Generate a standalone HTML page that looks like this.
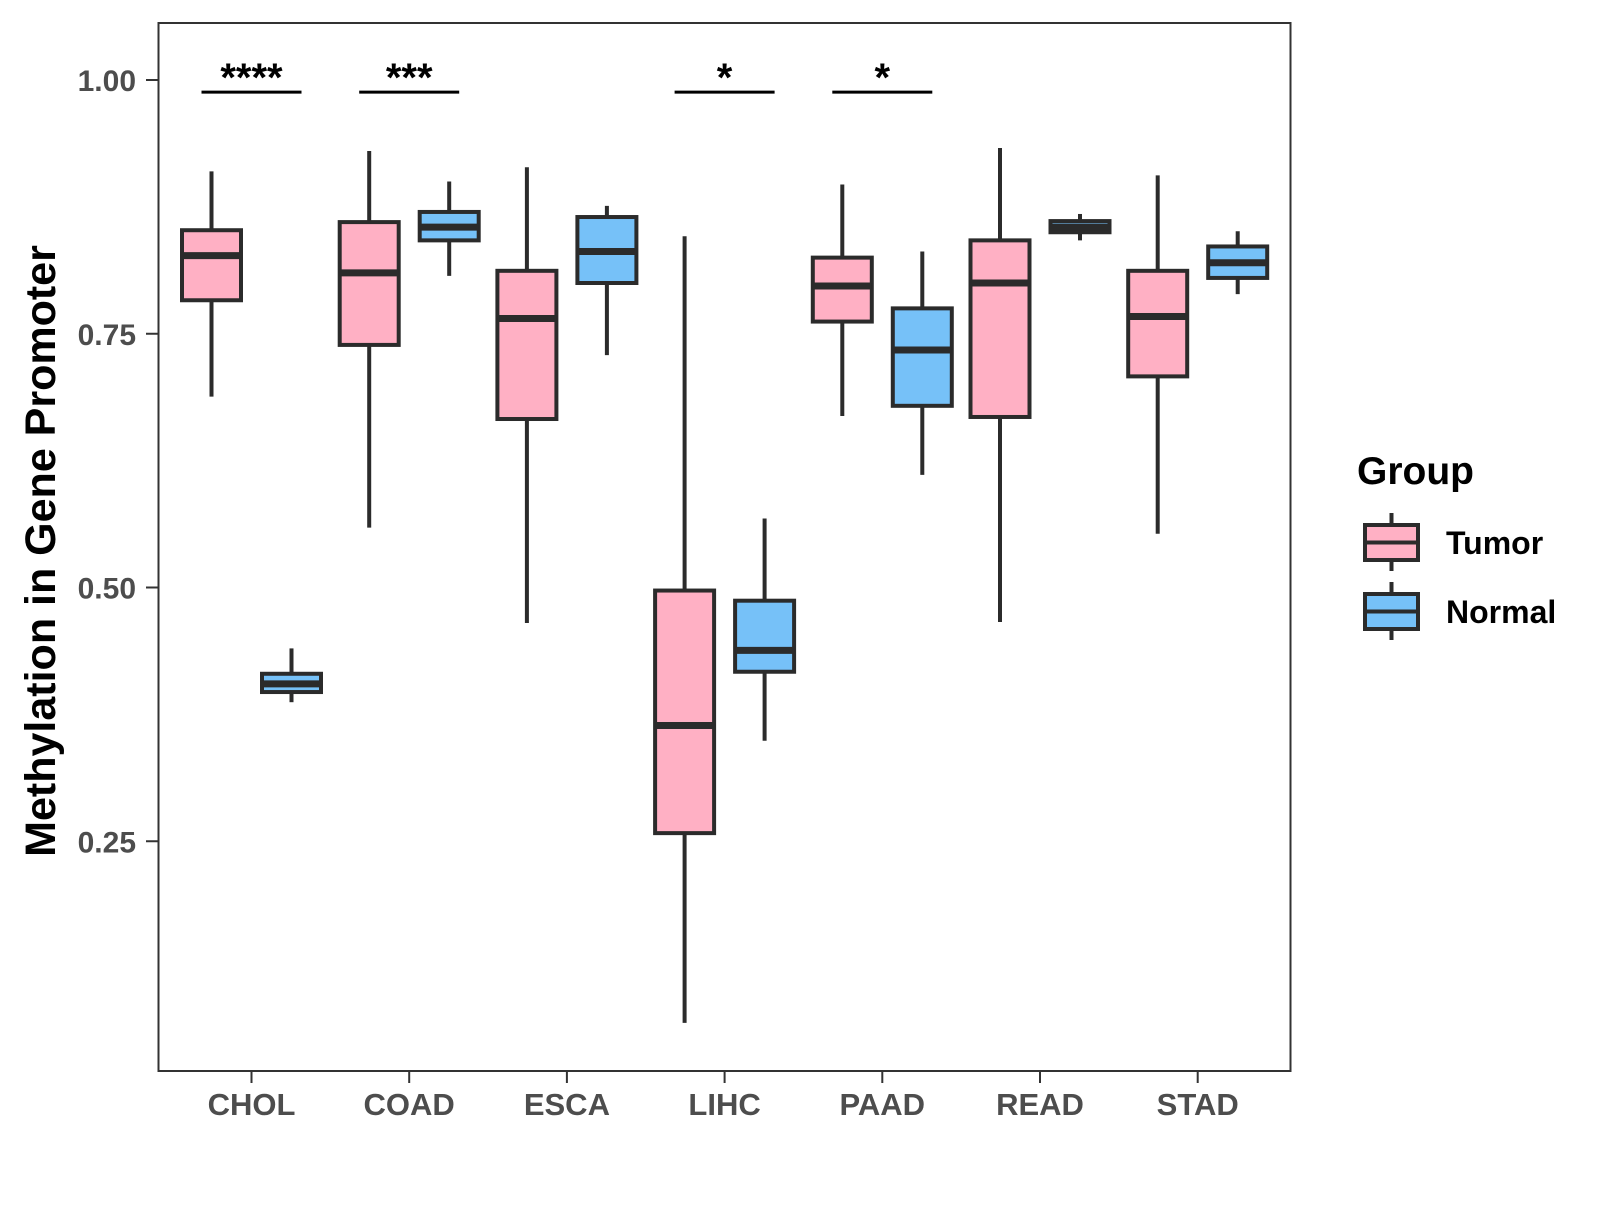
<!DOCTYPE html>
<html><head><meta charset="utf-8"><style>
html,body{margin:0;padding:0;background:#fff;}
svg text{font-family:"Liberation Sans",Arial,sans-serif;font-weight:bold;}
</style></head><body>
<svg id="chart" width="1600" height="1200" xmlns="http://www.w3.org/2000/svg">
<rect x="0" y="0" width="1600" height="1200" fill="#fff"/>
<g id="marks"></g>
<rect x="158.5" y="23" width="1132" height="1048" fill="none" stroke="#333" stroke-width="2"/>
<g id="axes"></g>
<text transform="translate(55,551) rotate(-90)" text-anchor="middle" font-size="43" fill="#000">Methylation in Gene Promoter</text>
<text x="1357" y="484" font-size="39" fill="#000">Group</text>
<g>
<line x1="1391.5" y1="513" x2="1391.5" y2="571" stroke="#2b2b2b" stroke-width="4"/>
<rect x="1365" y="525" width="53" height="35" fill="#FFB0C4" stroke="#2b2b2b" stroke-width="4"/>
<line x1="1365" y1="542.5" x2="1418" y2="542.5" stroke="#2b2b2b" stroke-width="4"/>
<text x="1446" y="554" font-size="32" fill="#000">Tumor</text>
</g>
<g>
<line x1="1391.5" y1="582" x2="1391.5" y2="640" stroke="#2b2b2b" stroke-width="4"/>
<rect x="1365" y="594" width="53" height="35" fill="#76C1F8" stroke="#2b2b2b" stroke-width="4"/>
<line x1="1365" y1="611.5" x2="1418" y2="611.5" stroke="#2b2b2b" stroke-width="4"/>
<text x="1446" y="623" font-size="32" fill="#000">Normal</text>
</g>
</svg>
<script>
const categories = ["CHOL","COAD","ESCA","LIHC","PAAD","READ","STAD"];
// [lower whisker, Q1, median, Q3, upper whisker]
const tumorStats = [
  [0.688,0.783,0.827,0.852,0.910],
  [0.559,0.739,0.810,0.860,0.930],
  [0.465,0.666,0.765,0.812,0.914],
  [0.071,0.258,0.364,0.497,0.846],
  [0.669,0.762,0.797,0.825,0.897],
  [0.466,0.668,0.800,0.842,0.933],
  [0.553,0.708,0.767,0.812,0.906]
];
const normalStats = [
  [0.387,0.397,0.405,0.415,0.440],
  [0.807,0.842,0.855,0.870,0.900],
  [0.729,0.800,0.831,0.865,0.876],
  [0.349,0.417,0.438,0.487,0.568],
  [0.611,0.679,0.734,0.775,0.831],
  [0.842,0.850,0.855,0.861,0.868],
  [0.789,0.805,0.820,0.836,0.851]
];
const yTicks = [0.25,0.50,0.75,1.00];
const yTickLabels = ["0.25","0.50","0.75","1.00"];
const sigLabels = ["****","***","","*","*","",""];
const sigLevel = 0.988;

const NS="http://www.w3.org/2000/svg";
function y(v){return 80+(1-v)*1015;}
function xc(i){return 251.5+i*157.7;}
const OFF=40, BW=59;
const marks=document.getElementById('marks');
const axes=document.getElementById('axes');
function el(tag,attrs,parent){const e=document.createElementNS(NS,tag);for(const k in attrs)e.setAttribute(k,attrs[k]);parent.appendChild(e);return e;}

function drawBox(s,cx,fill,name){
  const g=el('g',{},marks);
  
  
  el('line',{x1:cx,x2:cx,y1:y(s[4]),y2:y(s[0]),stroke:'#2b2b2b','stroke-width':4},g);
  el('rect',{x:cx-BW/2,y:y(s[3]),width:BW,height:y(s[1])-y(s[3]),fill:fill,stroke:'#2b2b2b','stroke-width':4},g);
  el('line',{x1:cx-BW/2,x2:cx+BW/2,y1:y(s[2]),y2:y(s[2]),stroke:'#2b2b2b','stroke-width':7},g);
}
categories.forEach((c,i)=>{
  drawBox(tumorStats[i],xc(i)-OFF,'#FFB0C4','box-tumor-'+c.toLowerCase());
  drawBox(normalStats[i],xc(i)+OFF,'#76C1F8','box-normal-'+c.toLowerCase());
  if(sigLabels[i]){
    const g=el('g',{},marks);
    
    
    el('line',{x1:xc(i)-OFF-10,x2:xc(i)+OFF+10,y1:y(sigLevel),y2:y(sigLevel),stroke:'#000','stroke-width':3},g);
    const t=el('text',{x:xc(i),y:y(sigLevel)-1,'text-anchor':'middle','font-size':40,fill:'#000'},g);
    t.textContent=sigLabels[i];
  }
  const tk=el('line',{x1:xc(i),x2:xc(i),y1:1071,y2:1083,stroke:'#333','stroke-width':2},axes);
  
  
  const lb=el('text',{x:xc(i),y:1115,'text-anchor':'middle','font-size':31,fill:'#4d4d4d'},axes);
  
  
  lb.textContent=c;
});
yTicks.forEach((v,i)=>{
  const tk=el('line',{x1:146,x2:158,y1:y(v),y2:y(v),stroke:'#333','stroke-width':2},axes);
  
  
  const lb=el('text',{x:136,y:y(v)+11,'text-anchor':'end','font-size':30,fill:'#4d4d4d'},axes);
  
  
  lb.textContent=yTickLabels[i];
});
</script>
</body></html>
